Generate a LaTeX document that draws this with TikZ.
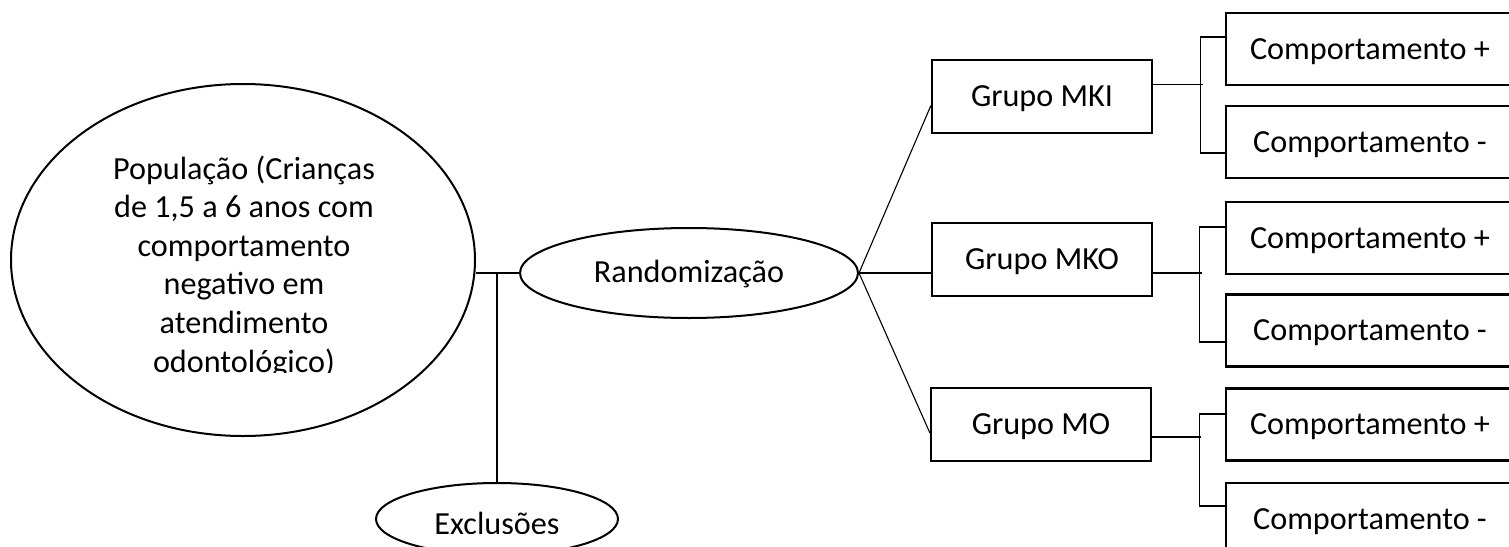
\documentclass[tikz,border=0pt]{standalone}
\usepackage{fontspec}
\setmainfont{Carlito}
\usetikzlibrary{shapes.geometric}
\begin{document}
\begin{tikzpicture}
[x=1pt,y=-1pt,font=\fontsize{32.2}{38.6}\selectfont,
  ovaldecorate/.style={shape=ellipse,draw,line width=2pt,inner sep=0pt},%
  groupdecorate/.style={shape=rectangle,draw,line width=2.2pt,minimum width=220pt,minimum height=73pt,text height=20pt,text depth=0pt},%
  choicedecorate/.style={shape=rectangle,draw,line width=2.2pt,minimum width=288pt,minimum height=72pt,text height=20pt,text depth=0pt},%
  linkdecorate/.style={line width=1.1pt}]
\useasboundingbox (0,0) rectangle (1509,546);
\clip (0,0) rectangle (1509,546);
% ovals
\node (pop) at (243,260) [ovaldecorate,minimum width=464pt,minimum height=352pt] {};
\begin{scope}
\clip (10,84) rectangle (476,372.5);
\foreach \row [count=\i] in {{População (Crianças},{de 1,5 a 6 anos com},{comportamento},{negativo em},{atendimento},{odontológico)}}
  \node (popline\i) at (244,{179+38.6*(\i-1)}) [anchor=base] {\row};
\end{scope}
\node (rand) at (689,273) [ovaldecorate,minimum width=338pt,minimum height=90pt] {};
\node (randtext) at (689,282) [anchor=base] {Randomização};
\node (excl) at (497,519) [ovaldecorate,minimum width=242pt,minimum height=72pt] {};
\begin{scope}
\clip (375,483) rectangle (619,533);
\node (excltext) at (497,534) [anchor=base] {Exclusões};
\end{scope}
% groups
\node (mki) at (1042,96.5) [groupdecorate] {Grupo MKI};
\node (mko) at (1042,259.5) [groupdecorate] {Grupo MKO};
\node (mo) at (1041,424.5) [groupdecorate] {Grupo MO};
% outcomes
\node (mkiplus) at (1370,49) [choicedecorate] {Comportamento +};
\node (mkiminus) at (1370,142) [choicedecorate] {Comportamento -};
\node (mkoplus) at (1370,238) [choicedecorate] {Comportamento +};
\node (mkominus) at (1370,330.5) [choicedecorate] {Comportamento -};
\node (moplus) at (1370,424.5) [choicedecorate] {Comportamento +};
\node (mominus) at (1370,519) [choicedecorate] {Comportamento -};
% links
\draw[linkdecorate] (rand.west) -- (rand.west -| pop.east);
\draw[linkdecorate] (excl.north) -- (excl.north |- rand.west);
\draw[linkdecorate] (rand.east) -- ([yshift=-9pt]mki.west);
\draw[linkdecorate] (rand.east) -- (rand.east -| mko.west);
\draw[linkdecorate] (rand.east) -- ([yshift=-8.5pt]mo.west);
% forks
\draw[linkdecorate] ([yshift=12pt]mki.east) -- ++(50,0);
\draw[linkdecorate] ([yshift=12pt]mkiplus.west) -- ++(-24,0) |- ([yshift=-11pt]mkiminus.west);
\draw[linkdecorate] ([yshift=-13.5pt]mko.east) -- ++(48.5,0);
\draw[linkdecorate] ([yshift=11pt]mkoplus.west) -- ++(-25.5,0) |- ([yshift=-11.5pt]mkominus.west);
\draw[linkdecorate] ([yshift=-12.5pt]mo.east) -- ++(48.5,0);
\draw[linkdecorate] ([yshift=10.5pt]moplus.west) -- ++(-25.5,0) |- ([yshift=13pt]mominus.west);
\end{tikzpicture}
\end{document}
